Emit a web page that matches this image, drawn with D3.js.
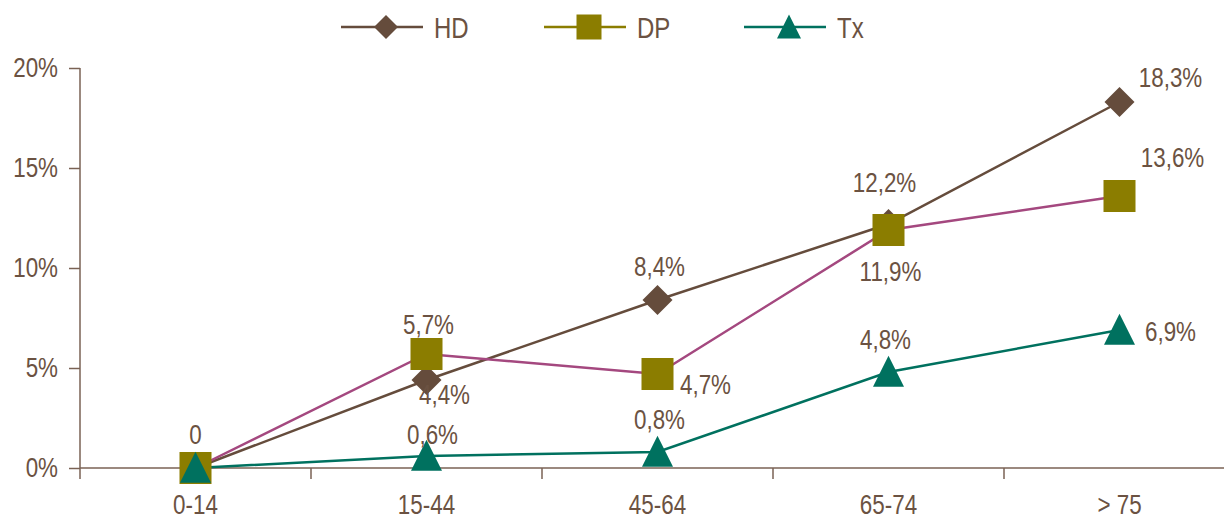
<!DOCTYPE html>
<html><head><meta charset="utf-8">
<script src="https://cdn.jsdelivr.net/npm/d3@7"></script>
<style>
html,body{margin:0;padding:0;background:#fff;}
svg{display:block;font-family:"Liberation Sans",Arial,sans-serif;}
</style></head>
<body>
<svg id="c" width="1224" height="518"></svg>
<script>
const categories = ["0-14", "15-44", "45-64", "65-74", "> 75"];
const seriesNames = ["HD", "DP", "Tx"];
const hdValues = [0, 4.4, 8.4, 12.2, 18.3];
const dpValues = [0, 5.7, 4.7, 11.9, 13.6];
const txValues = [0, 0.6, 0.8, 4.8, 6.9];
const hdLabels = ["0", "4,4%", "8,4%", "12,2%", "18,3%"];
const dpLabels = ["", "5,7%", "4,7%", "11,9%", "13,6%"];
const txLabels = ["", "0,6%", "0,8%", "4,8%", "6,9%"];
const yTicks = [0, 5, 10, 15, 20];
const yTickLabels = ["0%", "5%", "10%", "15%", "20%"];

// label offsets (placement), [dx, dy baseline]
const hdLabelPos = [[0,-24],[18,24],[2,-24],[-4,-32],[51,-15]];
const dpLabelPos = [[0,0],[2,-20],[48,20],[2,51],[53,-29]];
const txLabelPos = [[0,0],[6,-12],[2,-23],[-3,-23],[51,11]];

const textColor = "#6B5242";
const axisColor = "#7A6254";
const SX = 0.8;   // horizontal condensing of text
const FS = 28;

const svg = d3.select("#c");
const x = d3.scaleBand().domain(categories).range([80, 1235]);
const y = d3.scaleLinear().domain([0, 20]).range([468, 68]);
const cx = c => x(c) + x.bandwidth()/2;

// y axis
const yAxis = svg.append("g").attr("transform","translate(80,0)")
  .call(d3.axisLeft(y).tickValues(yTicks).tickFormat((d,i)=>yTickLabels[i]).tickSize(11).tickPadding(10));
yAxis.select(".domain").attr("stroke",axisColor).attr("stroke-width",1.5).attr("d","M0,"+y(20)+"V"+y(0));
yAxis.selectAll(".tick line").attr("stroke",axisColor).attr("stroke-width",1.5);
yAxis.selectAll(".tick text").attr("fill",textColor).attr("font-size",FS)
  .attr("x",-22/SX).attr("transform",`scale(${SX},1)`);

// x axis
const xAxis = svg.append("g").attr("transform","translate(0,"+y(0)+")")
  .call(d3.axisBottom(x).tickSize(0).tickPadding(26));
xAxis.select(".domain").attr("stroke",axisColor).attr("stroke-width",1.5).attr("d","M80,0H1235");
xAxis.selectAll(".tick text").attr("fill",textColor).attr("font-size",FS).attr("transform",`scale(${SX},1)`);
xAxis.selectAll(".sep").data(categories).enter().append("line")
  .attr("x1",d=>x(d)).attr("x2",d=>x(d)).attr("y1",0).attr("y2",11)
  .attr("stroke",axisColor).attr("stroke-width",1.5);

const series = [
  {name:"HD", values:hdValues, labels:hdLabels, pos:hdLabelPos, line:"#654C3C", fill:"#654C3C", shape:"diamond", legendLine:"#654C3C"},
  {name:"DP", values:dpValues, labels:dpLabels, pos:dpLabelPos, line:"#A4487F", fill:"#8B7D00", shape:"square", legendLine:"#8B7D00"},
  {name:"Tx", values:txValues, labels:txLabels, pos:txLabelPos, line:"#00715F", fill:"#00715F", shape:"triangle", legendLine:"#00715F"}
];

function shapePath(shape, s){
  if(shape==="diamond") return `M0,${-s}L${s},0L0,${s}L${-s},0Z`;
  if(shape==="square") return `M${-s},${-s}H${s}V${s}H${-s}Z`;
  return `M0,${-s*1.05}L${s},${s*0.95}L${-s},${s*0.95}Z`;
}
const bigSize = {diamond:15, square:16, triangle:15.5};
const smallSize = {diamond:12, square:12.5, triangle:12};

const line = d3.line().x((d,i)=>cx(categories[i])).y(d=>y(d));
series.forEach(s=>{
  svg.append("path").attr("d",line(s.values)).attr("fill","none").attr("stroke",s.line).attr("stroke-width",2.5);
});
series.forEach(s=>{
  svg.append("g").selectAll("path").data(s.values).enter().append("path")
    .attr("transform",(d,i)=>`translate(${cx(categories[i])},${y(d)})`)
    .attr("d",shapePath(s.shape,bigSize[s.shape])).attr("fill",s.fill);
});
series.forEach(s=>{
  svg.append("g").selectAll("text").data(s.values).enter().append("text")
    .attr("transform",(d,i)=>`translate(${cx(categories[i])+s.pos[i][0]},${y(d)+s.pos[i][1]}) scale(${SX},1)`)
    .attr("text-anchor","middle").attr("font-size",FS).attr("fill",textColor)
    .text((d,i)=>s.labels[i]);
});

// legend
const legendX = [341, 544, 744];
series.forEach((s,i)=>{
  const g = svg.append("g").attr("transform",`translate(${legendX[i]},27)`);
  g.append("line").attr("x1",0).attr("x2",82).attr("stroke",s.legendLine).attr("stroke-width",2.5);
  g.append("path").attr("transform","translate(45,0)").attr("d",shapePath(s.shape,smallSize[s.shape])).attr("fill",s.fill);
  g.append("text").attr("transform",`translate(93,11) scale(${SX},1)`).attr("font-size",30).attr("fill",textColor).text(s.name);
});
</script>
</body></html>
